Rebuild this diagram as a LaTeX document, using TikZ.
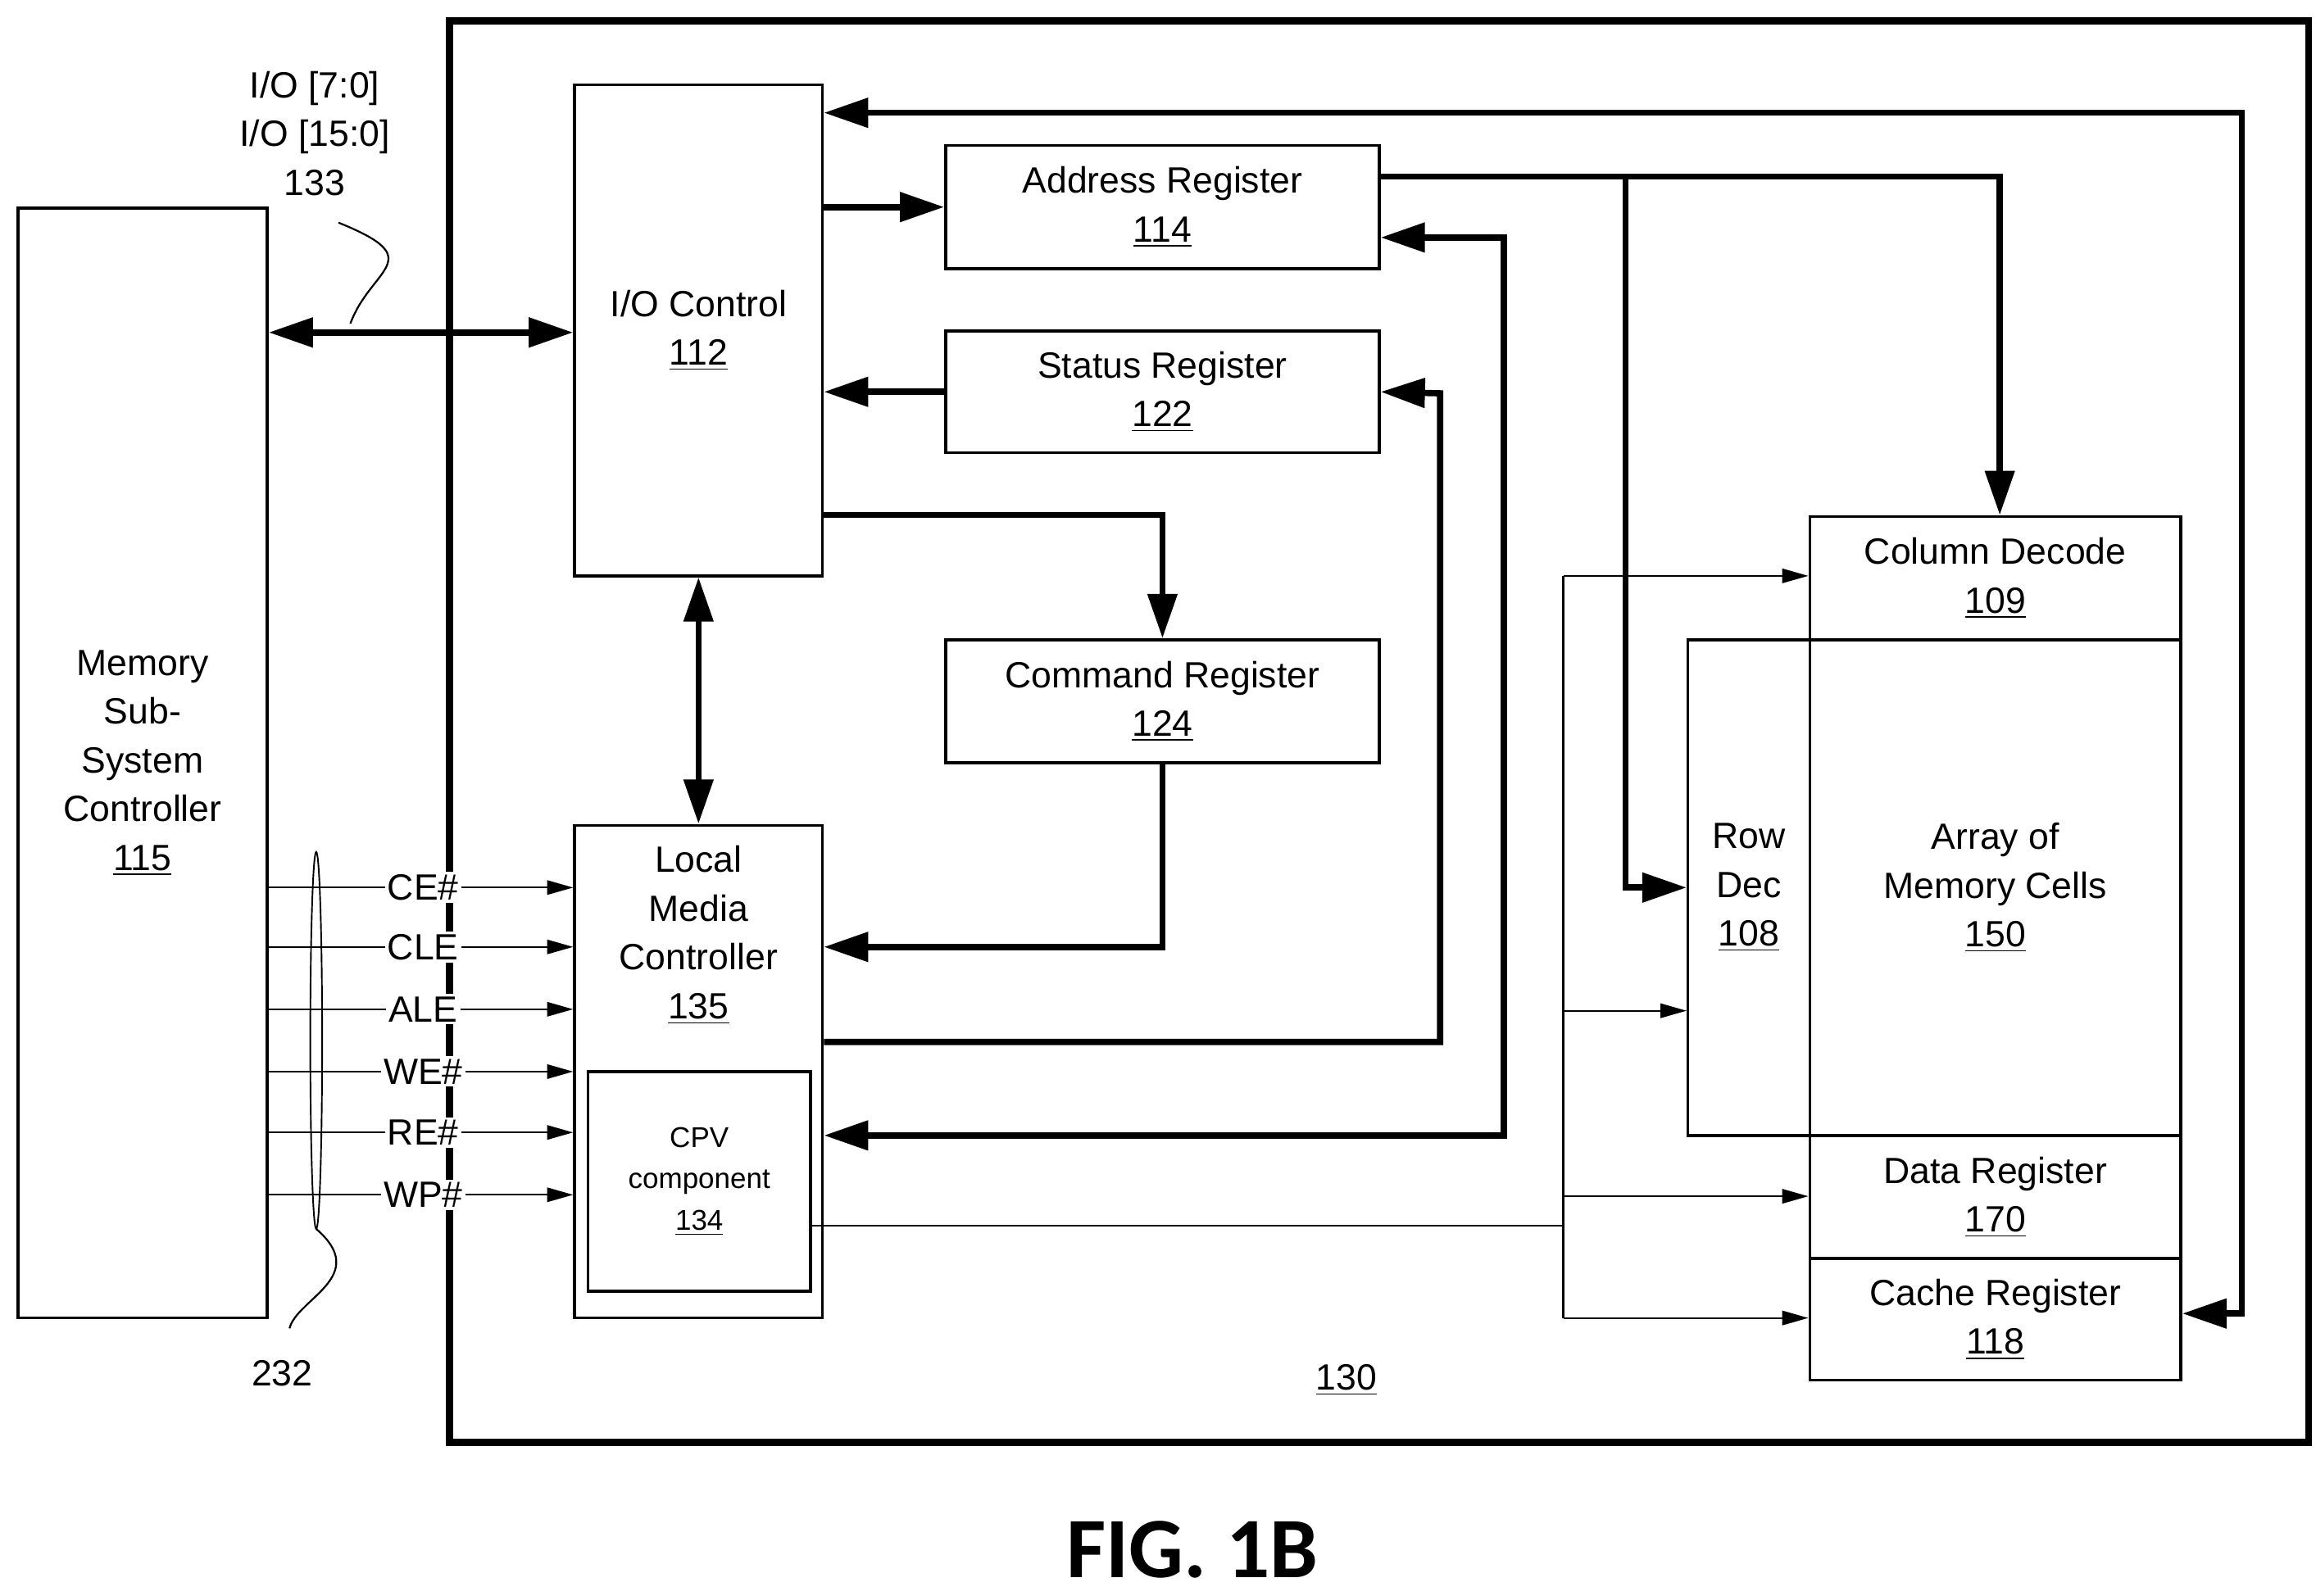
\documentclass[tikz,border=0pt]{standalone}
\usepackage{fontspec}
\setmainfont{Liberation Sans}
\newfontfamily\figfont{Carlito}
\usetikzlibrary{arrows.meta,positioning}

\begin{document}
\begin{tikzpicture}[x=0.02cm, y=-0.02cm,
  box/.style={draw, line width=1.1pt, inner sep=0pt, align=center,
    font=\fontsize{14}{18.7}\selectfont},
  thk/.style={line width=2.4pt, -{Triangle[length=17pt,width=11pt]}},
  thkb/.style={line width=2.4pt, {Triangle[length=17pt,width=11pt]}-{Triangle[length=17pt,width=11pt]}},
  thn/.style={line width=0.7pt, -{Triangle[length=10pt,width=5.5pt]}},
  sig/.style={fill=white, inner sep=1pt, font=\fontsize{14}{16}\selectfont},
  lbl/.style={align=center, font=\fontsize{14}{18.7}\selectfont}]

\useasboundingbox (0,0) rectangle (1560,1075);

% blocks
\node[box, minimum width=3.36cm, minimum height=14.96cm] (msc) at (96,514)
  {Memory\\Sub-\\System\\Controller\\\underline{115}};
\node[box, minimum width=3.34cm, minimum height=6.62cm] (ioc) at (470.5,222.5)
  {I/O Control\\\underline{112}};
\node[box, minimum width=5.84cm, minimum height=1.66cm] (addr) at (783,139.5)
  {Address Register\\\underline{114}};
\node[box, minimum width=5.84cm, minimum height=1.64cm] (stat) at (783,264)
  {Status Register\\\underline{122}};
\node[box, minimum width=5.84cm, minimum height=1.66cm] (cmd) at (783,472.5)
  {Command Register\\\underline{124}};
\node[box, minimum width=3.34cm, minimum height=6.64cm] (lmc) at (470.5,722) {};
\node[lbl] (lmct) at (470.5,630) {Local\\Media\\Controller\\\underline{135}};
\node[box, minimum width=3.0cm, minimum height=2.96cm,
  font=\fontsize{11}{15.9}\selectfont] (cpv) at (471,796)
  {CPV\\component\\\underline{134}};
\node[box, minimum width=5.0cm, minimum height=1.66cm] (col) at (1344,389.5)
  {Column Decode\\\underline{109}};
\node[box, minimum width=1.64cm, minimum height=6.68cm] (row) at (1178,598)
  {Row\\Dec\\\underline{108}};
\node[box, minimum width=5.0cm, minimum height=6.68cm] (arr) at (1344,598)
  {Array of\\Memory Cells\\\underline{150}};
\node[box, minimum width=5.0cm, minimum height=1.66cm] (data) at (1344,806.5)
  {Data Register\\\underline{170}};
\node[box, minimum width=5.0cm, minimum height=1.64cm] (cache) at (1344,889)
  {Cache Register\\\underline{118}};

% outer device
\draw[line width=2.8pt] (303,14) rectangle (1555,972);
\node[lbl] (dev) at (907,930) {\underline{130}};
\node[font=\figfont\bfseries\fontsize{33}{38}\selectfont] (fig) at (803,1044) {FIG. 1B};

% bus labels
\node[lbl] (io) at (212,90) {I/O [7:0]\\I/O [15:0]\\133};
\node[lbl] (n232) at (190,925) {232};
\draw[line width=0.7pt] (228,150) .. controls (290,175) and (250,180) .. (236,218);
\draw[line width=0.7pt] (213,828) .. controls (250,860) and (200,875) .. (195,895);
\draw[line width=0.6pt] (213,701) ellipse (4 and 127);

% thick buses
\draw[thkb] (msc.east |- 0,224) -- (ioc.west |- 0,224);
\draw[thk] (ioc.east |- addr.west) -- (addr.west);
\draw[thk] (stat.west) -- (ioc.east |- stat.west);
\draw[thk] (ioc.east |- 0,347) -- (783,347) -- (cmd.north);
\draw[thkb] (ioc.south) -- (lmc.north);
\draw[thk] (cmd.south) -- (783,638) -- (lmc.east |- 0,638);
\draw[thk] (lmc.east |- 0,702) -- (970,702) -- (970,265) -- (stat.east);
\draw[thkb] (addr.east |- 0,160) -- (1013,160) -- (1013,765) -- (lmc.east |- 0,765);
\draw[thkb] (ioc.east |- 0,76) -- (1510,76) -- (1510,885) -- (cache.east |- 0,885);
\draw[thk] (addr.east |- 0,119) -- (1347,119) -- (col.north -| 1347,0);
\draw[thk] (1095,119) -- (1095,598) -- (row.west);

% control lines
\draw[line width=0.7pt] (cpv.east |- 0,826) -- (1053,826);
\draw[line width=0.7pt] (1053,388) -- (1053,888);
\draw[thn] (1053,388) -- (col.west |- 0,388);
\draw[thn] (1053,681) -- (row.west |- 0,681);
\draw[thn] (1053,806) -- (data.west |- 0,806);
\draw[thn] (1053,888) -- (cache.west |- 0,888);

% signals
\foreach \s/\y in {CE\#/598, CLE/638, ALE/680, WE\#/722, RE\#/763, WP\#/805} {
  \draw[thn] (msc.east |- 0,\y) -- (lmc.west |- 0,\y);
  \node[sig] at (285,\y) {\s};
}
\end{tikzpicture}
\end{document}
